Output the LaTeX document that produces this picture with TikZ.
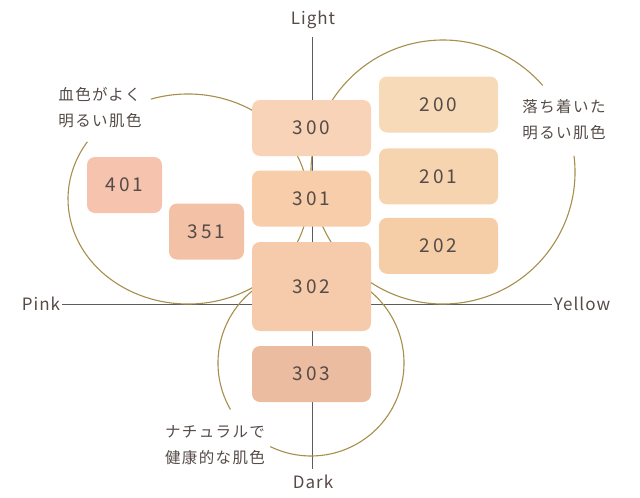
\documentclass[tikz,border=0pt]{standalone}
\usepackage{fontspec}
\setmainfont{Noto Sans CJK JP}
\usepackage{xcolor}
\usetikzlibrary{positioning,calc}

\definecolor{inkc}{HTML}{554B47}
\definecolor{axisc}{HTML}{5C5C5C}
\definecolor{ringc}{HTML}{A68E4C}
\definecolor{t300}{HTML}{F8D3B7}
\definecolor{t301}{HTML}{F7CDAA}
\definecolor{t302}{HTML}{F6CBAB}
\definecolor{t303}{HTML}{EBBC9F}
\definecolor{t401}{HTML}{F5C3AE}
\definecolor{t351}{HTML}{F3C1A6}
\definecolor{t200}{HTML}{F7DAB8}
\definecolor{t201}{HTML}{F6D4AF}
\definecolor{t202}{HTML}{F5CDA7}

\begin{document}
\begin{tikzpicture}[
  x=1pt, y=-1pt,
  shadebox/.style={rectangle, rounded corners=8pt, minimum width=119pt,
                   minimum height=56pt, inner sep=0pt, text=inkc,
                   font=\fontsize{19}{22}\selectfont\addfontfeatures{LetterSpace=16}},
  smallbox/.style={shadebox, minimum width=75pt},
  axislabel/.style={font=\fontsize{17}{20}\selectfont\addfontfeatures{LetterSpace=6},
                    text=inkc, inner sep=2pt},
  note/.style={font=\fontsize{15.5}{26}\selectfont\addfontfeatures{LetterSpace=9},
               text=inkc, align=left},
  axisline/.style={draw=axisc, line width=0.9pt},
  tonering/.style={draw=ringc, line width=1.1pt},
]
  \useasboundingbox (0,0) rectangle (640,498);

  % ========= AXES =========
  \node[axislabel] (light)  at (313,20)  {Light};
  \node[axislabel] (dark)   at (313,482) {Dark};
  \node[axislabel] (pink)   at (41,304)  {Pink};
  \node[axislabel] (yellow) at (582,304) {Yellow};
  \draw[axisline, shorten <=6pt, shorten >=4pt] (light.south -| 312,0) -- (dark.north -| 312,0);
  \draw[axisline] (pink.east) -- (yellow.west);

  % ========= RINGS (open where the notes sit) =========
  \coordinate (cpink)   at (188,199);
  \coordinate (cyellow) at (443,172);
  \coordinate (cdark)   at (311,363);
  \draw[tonering] ($(cpink)+(-108:120 and 105)$)
       arc[start angle=-108, end angle=213, x radius=120, y radius=105];
  \draw[tonering] ($(cyellow)+(-7:132)$)
       arc[start angle=-7, end angle=319, radius=132];
  \draw[tonering] ($(cdark)+(150:93)$)
       arc[start angle=150, end angle=476, radius=93];

  % Notes
  \node[note] (notepink)   at (100,108)  {血色がよく\\明るい肌色};
  \node[note] (noteyellow) at (564,120) {落ち着いた\\明るい肌色};
  \node[note] (notedark)   at (215,445) {ナチュラルで\\健康的な肌色};

  % ========= SHADES =========
  % centre column
  \node[shadebox, fill=t300] (s300) at (311.5,128) {300};
  \node[shadebox, fill=t301] (s301) at (311.5,198.5) {301};
  \node[shadebox, fill=t302, minimum height=89pt] (s302) at (311.5,286.5) {302};
  \node[shadebox, fill=t303] (s303) at (311.5,374) {303};
  % pink side
  \node[smallbox, fill=t401] (s401) at (124.5,185) {401};
  \node[smallbox, fill=t351] (s351) at (206.5,231.5) {351};
  % yellow side
  \node[shadebox, fill=t200] (s200) at (438.5,104.5) {200};
  \node[shadebox, fill=t201, below=15.5pt of s200] (s201) {201};
  \node[shadebox, fill=t202, below=13pt of s201] (s202) {202};

\end{tikzpicture}
\end{document}
